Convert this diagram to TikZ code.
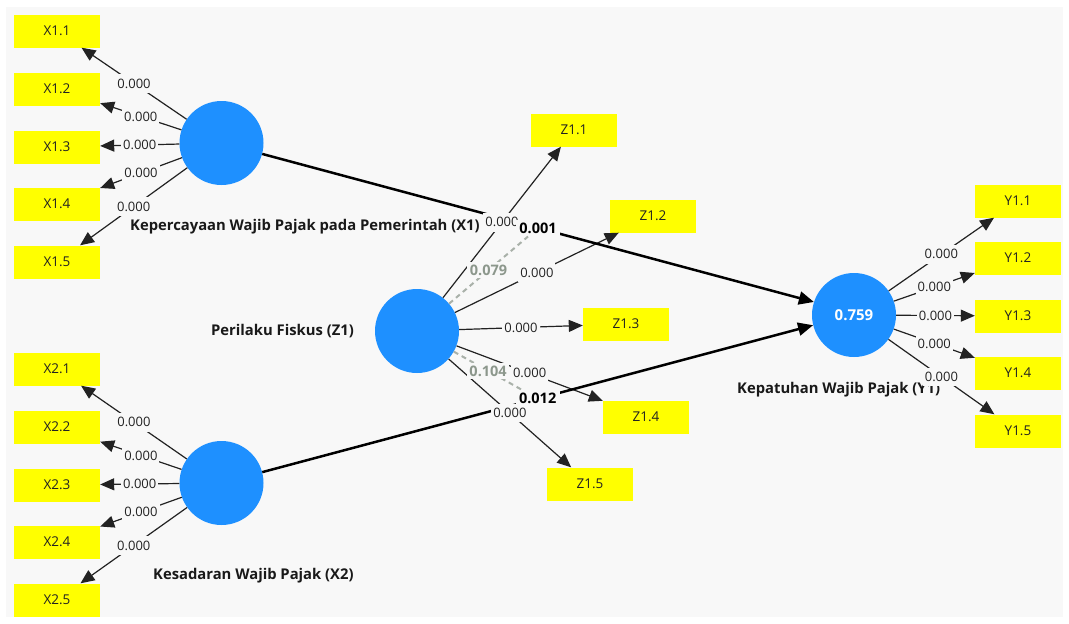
\documentclass[tikz,border=0pt]{standalone}
\usepackage{fontspec}
\setmainfont{Open Sans}
\usetikzlibrary{arrows.meta}
\definecolor{bgc}{HTML}{F8F8F8}
\definecolor{lv}{HTML}{1E90FF}
\definecolor{ind}{HTML}{FFFF00}
\definecolor{modc}{HTML}{8C978C}
\definecolor{txt}{HTML}{222222}
\tikzset{
  latent/.style={circle, fill=lv, minimum size=84pt, inner sep=0pt},
  indic/.style={rectangle, fill=ind, minimum width=86pt, minimum height=33pt, inner sep=0pt,
                font=\fontsize{13.5}{15}\selectfont, text=txt},
  title/.style={anchor=west, inner sep=0pt, font=\fontsize{14.8}{17}\selectfont\bfseries, text=black!90},
  load/.style={draw=txt, line width=1.2pt, -{Triangle[length=14pt,width=12pt]}},
  pathc/.style={draw=black, line width=2.5pt, -{Triangle[length=15pt,width=13pt]}},
  modline/.style={draw=modc!75, line width=2pt, dash pattern=on 5pt off 4pt},
  lbl/.style={fill=bgc, inner xsep=2pt, inner ysep=4.5pt, font=\fontsize{13}{15}\selectfont, text=txt},
  plbl/.style={fill=bgc, inner xsep=3.5pt, inner ysep=3pt, font=\fontsize{14.5}{16}\selectfont\bfseries, text=black},
  mlbl/.style={fill=bgc, inner sep=2.5pt, font=\fontsize{14.5}{16}\selectfont\bfseries, text=modc},
}
\begin{document}
\begin{tikzpicture}[x=1pt,y=-1pt]
% canvas
\fill[white] (0,0) rectangle (1069,624);
\fill[bgc] (6,7) rectangle (1063,617);
\useasboundingbox (0,0) rectangle (1069,624);

% latent variables
\node[latent] (X1) at (221.5,143) {};
\node[latent] (X2) at (221.5,483) {};
\node[latent] (Z1) at (417,331) {};
\node[latent] (Y1) at (854,315) {};

% indicators
\foreach \i/\y in {1/31,2/89,3/147,4/204,5/262}
  \node[indic] (X1\i) at (57,\y) {X1.\i};
\foreach \i/\y in {1/369,2/427,3/485,4/542,5/600}
  \node[indic] (X2\i) at (57,\y) {X2.\i};
\node[indic] (Z11) at (574,130) {Z1.1};
\node[indic] (Z12) at (653,216) {Z1.2};
\node[indic] (Z13) at (626,324) {Z1.3};
\node[indic] (Z14) at (646,417) {Z1.4};
\node[indic] (Z15) at (590,484) {Z1.5};
\foreach \i/\y in {1/201,2/258,3/316,4/373,5/431}
  \node[indic] (Y1\i) at (1018,\y) {Y1.\i};

% outer loadings (lines)
\foreach \i in {1,...,5} {
  \draw[load] (X1) -- coordinate[midway] (mX1\i) (X1\i);
  \draw[load] (X2) -- coordinate[midway] (mX2\i) (X2\i);
  \draw[load] (Z1) -- coordinate[midway] (mZ1\i) (Z1\i);
  \draw[load] (Y1) -- coordinate[midway] (mY1\i) (Y1\i);
}

% structural paths
\draw[pathc] (X1) -- coordinate[midway] (mP1) (Y1.162);
\draw[pathc] (X2) -- coordinate[midway] (mP2) (Y1.194);

% construct names
\node[title] at (130,227) {Kepercayaan Wajib Pajak pada Pemerintah (X1)};
\node[title] at (211,331) {Perilaku Fiskus (Z1)};
\node[title] at (153,576) {Kesadaran Wajib Pajak (X2)};
\node[title] at (737,390) {Kepatuhan Wajib Pajak (Y1)};
\node[font=\fontsize{15}{17}\selectfont\bfseries, text=white] at (Y1) {0.759};

% loading values
\foreach \i in {1,...,5} {
  \node[lbl] at (mX1\i) {0.000};
  \node[lbl] at (mX2\i) {0.000};
  \node[lbl] at (mY1\i) {0.000};
}
\node[lbl] at (mZ11) {0.000};
\node[lbl] at (mZ12) {0.000};
\node[lbl] at (mZ13) {0.000};
\node[lbl] at (mZ14) {0.000};

% path coefficients
\node[plbl] (P1) at (mP1) {0.001};
\node[plbl] (P2) at (mP2) {0.012};

% moderating effects
\draw[modline] (Z1) -- node[mlbl] {0.079} (P1);
\draw[modline] (Z1) -- node[mlbl] {0.104} (P2);

\node[lbl] at (mZ15) {0.000};
\end{tikzpicture}
\end{document}
